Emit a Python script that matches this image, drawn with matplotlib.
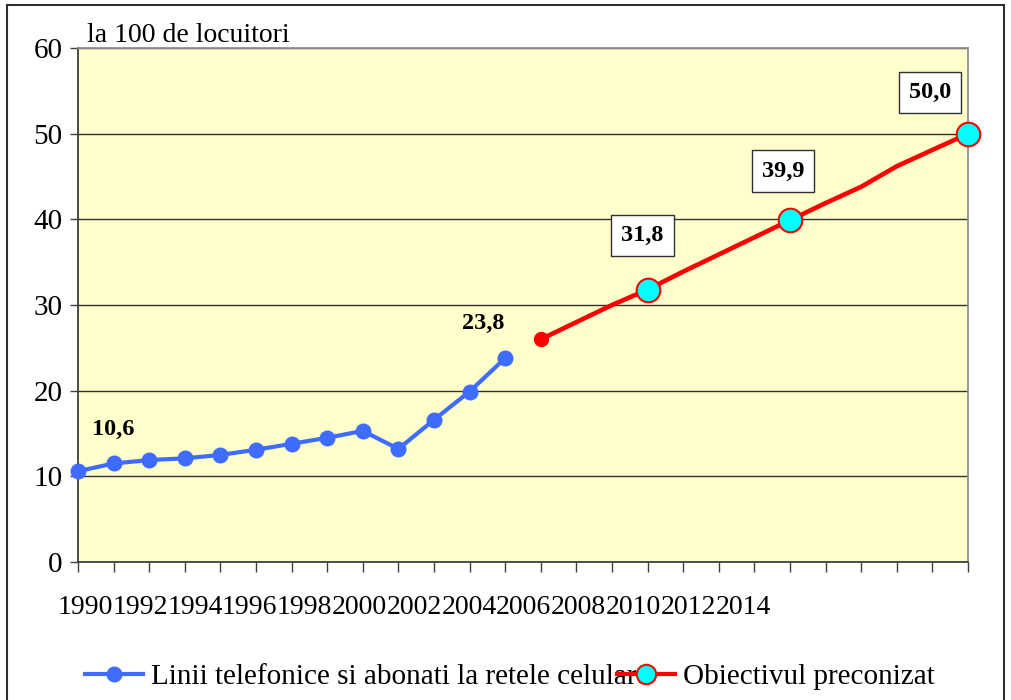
import matplotlib
matplotlib.use("Agg")
import matplotlib.pyplot as plt
from matplotlib.lines import Line2D
from matplotlib.patches import Rectangle
import numpy as np

plt.rcParams['font.family'] = ['Liberation Serif', 'DejaVu Serif']

years = list(range(1990, 2016))
tick_labels = [str(y) for y in range(1990, 2015, 2)]

hist_years = list(range(1990, 2003))
hist_values = [10.6, 11.5, 11.9, 12.1, 12.5, 13.1, 13.8, 14.5, 15.3, 13.2, 16.6, 19.9, 23.8]

target_years = list(range(2003, 2016))
target_values = [26.0, 28.0, 30.0, 31.8, 33.9, 35.9, 37.9, 39.9, 41.9, 43.8, 46.2, 48.1, 50.0]
target_marked_years = [2006, 2010, 2015]
target_marked_values = [31.8, 39.9, 50.0]

series_names = ["Linii telefonice si abonati la retele celulare", "Obiectivul preconizat"]

W, H = 1011, 700
fig = plt.figure(figsize=(W / 100, H / 100), dpi=100)
ax = fig.add_axes([78 / W, 1 - 562 / H, (968 - 78) / W, (562 - 48) / H])
ax.set_facecolor('#FFFFCC')

blue = '#3F6BFF'
red = '#FF0000'
cyan = '#00FFFF'

ax.set_xlim(1990, 2015)
ax.set_ylim(0, 60)
ax.set_yticks(range(0, 61, 10))
ax.yaxis.grid(True, color='#303030', linewidth=1.0)
ax.set_axisbelow(True)
ax.tick_params(axis='y', labelsize=21, length=6, width=1, color='#404040', pad=5)
ax.set_xticks(years)
ax.set_xticklabels([])
ax.tick_params(axis='x', length=7, width=1, color='#404040')
for s in ['left', 'bottom']:
    ax.spines[s].set_color('#404040')
    ax.spines[s].set_linewidth(1.3)
for s in ['top', 'right']:
    ax.spines[s].set_color('#909090')
    ax.spines[s].set_linewidth(1.3)

# squeezed year labels (as in the original)
x0, step = 58, 54.8
for k, lab in enumerate(tick_labels):
    fig.text((x0 + step * (k + 0.5)) / W, 1 - 607 / H, lab, ha='center', va='center', fontsize=20)

ax.plot(hist_years, hist_values, color=blue, lw=3, marker='o', ms=10.5, mfc=blue, mec=blue, zorder=3, clip_on=False)
ax.plot(target_years, target_values, color=red, lw=3.3, zorder=3, clip_on=False)
ax.plot([target_years[0]], [target_values[0]], 'o', color=red, ms=10, zorder=4, clip_on=False)
ax.plot(target_marked_years, target_marked_values, 'o', ms=17, mfc=cyan, mec=red, mew=1.5, zorder=5, clip_on=False)

def pxoff(dx, dy):
    return (dx * 0.72, -dy * 0.72)

ax.annotate("10,6", (hist_years[0], hist_values[0]), xytext=pxoff(35, -42), textcoords='offset points',
            ha='center', va='center', fontsize=17.5, fontweight='bold')
ax.annotate("23,8", (hist_years[-1], hist_values[-1]), xytext=pxoff(-22, -35), textcoords='offset points',
            ha='center', va='center', fontsize=17.5, fontweight='bold')
box = dict(boxstyle='square,pad=0.42', fc='white', ec='#303030', lw=1)
offs = [(-5, -54), (-7, -49), (-38, -41)]
for (yy, vv), (dx, dy) in zip(zip(target_marked_years, target_marked_values), offs):
    ax.annotate(f"{vv:.1f}".replace('.', ','), (yy, vv), xytext=pxoff(dx, dy), textcoords='offset points',
                ha='center', va='center', fontsize=17.5, fontweight='bold', bbox=box, zorder=6)

fig.text(87 / W, 1 - 35 / H, "la 100 de locuitori", ha='left', va='center', fontsize=20)

handles = [
    Line2D([], [], color=blue, lw=3, marker='o', ms=10.5, mfc=blue, mec=blue),
    Line2D([], [], color=red, lw=3, marker='o', ms=14, mfc=cyan, mec=red, mew=1.5),
]
leg = fig.legend(handles, series_names, loc='center left', bbox_to_anchor=(85 / W, 1 - 677 / H), ncol=2,
                 frameon=False, fontsize=21, handlelength=2.0, handletextpad=0.25, columnspacing=-1.1,
                 borderaxespad=0, borderpad=0)

fig.patches.append(Rectangle((7 / W, -0.01), (1004 - 7) / W, 1 - 5 / H + 0.01, transform=fig.transFigure,
                             fill=False, ec='#303030', lw=1.5))

fig.savefig('out.png', dpi=100)
